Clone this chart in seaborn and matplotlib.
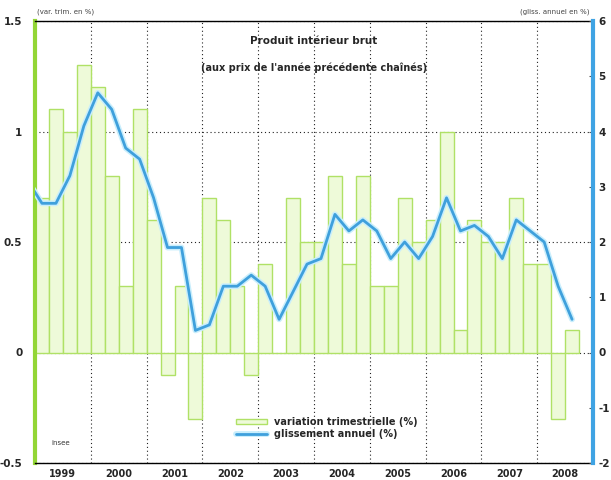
import numpy as np
import pandas as pd
import matplotlib
matplotlib.use("Agg")
import matplotlib.pyplot as plt
import matplotlib.ticker as ticker
import matplotlib.patheffects as pe
from matplotlib.patches import Patch
from matplotlib.lines import Line2D
import seaborn as sns

# données (INSEE, PIB aux prix de l'année précédente chaînés)
years = ["1999", "2000", "2001", "2002", "2003", "2004", "2005", "2006", "2007", "2008"]
quarters = [f"{y}T{q}" for y in years for q in range(1, 5)][:39]

# variation trimestrielle (%), 1999T1 -> 2008T3
var_trim = [0.7, 1.1, 1.0, 1.3,
            1.2, 0.8, 0.3, 1.1,
            0.6, -0.1, 0.3, -0.3,
            0.7, 0.6, 0.3, -0.1,
            0.4, 0.0, 0.7, 0.5,
            0.5, 0.8, 0.4, 0.8,
            0.3, 0.3, 0.7, 0.5,
            0.6, 1.0, 0.1, 0.6,
            0.5, 0.5, 0.7, 0.4,
            0.4, -0.3, 0.1]

# glissement annuel (%), 1998T4 -> 2008T3 (le premier point sort du cadre)
gliss_quarters = ["1998T4"] + quarters
gliss = [3.1,
         2.7, 2.7, 3.2, 4.1,
         4.7, 4.4, 3.7, 3.5,
         2.8, 1.9, 1.9, 0.4,
         0.5, 1.2, 1.2, 1.4,
         1.2, 0.6, 1.1, 1.6,
         1.7, 2.5, 2.2, 2.4,
         2.2, 1.7, 2.0, 1.7,
         2.1, 2.8, 2.2, 2.3,
         2.1, 1.7, 2.4, 2.2,
         2.0, 1.2, 0.6]

bars_df = pd.DataFrame({"trimestre": quarters, "var": var_trim})
line_df = pd.DataFrame({"pos": np.arange(len(gliss)) - 1, "gliss": gliss})

sns.set_style("white")
plt.rcParams["font.family"] = ["DejaVu Sans"]

GREEN_FILL = "#eefad9"
GREEN_EDGE = "#b0e166"
GREEN_AXIS = "#93d636"
BLUE = "#3fa0dc"
BLUE_AXIS = "#3fa3e3"
HALO = [pe.Stroke(linewidth=4.2, foreground="#c9eefc"), pe.Normal()]

fig = plt.figure(figsize=(6.11, 4.8), dpi=100)
ax = fig.add_axes([35 / 611, 17 / 480, 558 / 611, 442 / 480])

sns.barplot(data=bars_df, x="trimestre", y="var", order=quarters, width=1.0,
            color=GREEN_FILL, edgecolor=GREEN_EDGE, linewidth=1.0,
            saturation=1, ax=ax, zorder=2)

ax.set_xlim(-0.5, 39.5)
ax.set_ylim(-0.5, 1.5)
ax.set_xlabel("")
ax.set_ylabel("")

# axe x : séparateurs d'années et libellés
ax.set_xticks(np.arange(3.5, 36, 4))
ax.set_xticklabels([])
ax.set_xticks(np.arange(1.5, 40, 4), minor=True)
ax.set_xticklabels(years, minor=True, fontsize=7, fontweight="bold")
ax.tick_params(axis="x", which="major", length=4, color="black", direction="out")
ax.tick_params(axis="x", which="minor", length=0, pad=4)

ax.set_yticks([-0.5, 0, 0.5, 1, 1.5])
ax.yaxis.set_major_formatter(ticker.FuncFormatter(lambda v, p: f"{v:g}"))
ax.tick_params(axis="y", length=0, pad=9, labelsize=7.5)
for lab in ax.get_yticklabels():
    lab.set_fontweight("bold")

ax.set_axisbelow(True)
ax.grid(False)
ax.xaxis.grid(True, which="major", linestyle=(0, (1, 2.5)), color="#222222", linewidth=0.8)
ax.yaxis.grid(True, linestyle=(0, (1, 2.5)), color="#222222", linewidth=0.8)

for s in ["top", "bottom"]:
    ax.spines[s].set_color("black")
    ax.spines[s].set_linewidth(1.0)
ax.spines["left"].set_color(GREEN_AXIS)
ax.spines["left"].set_linewidth(3)
ax.spines["right"].set_visible(False)

# axe secondaire : glissement annuel
ax2 = ax.twinx()
sns.lineplot(data=line_df, x="pos", y="gliss", color=BLUE, linewidth=2.0, ax=ax2,
             path_effects=HALO)
ax2.set_xlim(-0.5, 39.5)
ax2.set_ylim(-2, 6)
ax2.set_xlabel("")
ax2.set_ylabel("")
ax2.set_yticks(np.arange(-2, 7, 1))
ax2.yaxis.set_major_formatter(ticker.FuncFormatter(lambda v, p: f"{v:g}"))
ax2.tick_params(axis="y", direction="in", length=3, color="#555555", pad=4, labelsize=7.5)
for lab in ax2.get_yticklabels():
    lab.set_fontweight("bold")
ax2.grid(False)
for s in ["top", "bottom", "left"]:
    ax2.spines[s].set_visible(False)
ax2.spines["right"].set_color(BLUE_AXIS)
ax2.spines["right"].set_linewidth(3)

# textes
fig.text(37 / 611, 1 - 12 / 480, "(var. trim. en %)", fontsize=5, color="#444444",
         va="center", ha="left")
fig.text(590 / 611, 1 - 12 / 480, "(gliss. annuel en %)", fontsize=5, color="#444444",
         va="center", ha="right")
ax.text(0.5, 0.955, "Produit intérieur brut", transform=ax.transAxes, ha="center",
        va="center", fontsize=7.5, fontweight="bold")
ax.text(0.5, 0.895, "(aux prix de l'année précédente chaînés)", transform=ax.transAxes,
        ha="center", va="center", fontsize=7, fontweight="bold")
ax.text(0.03, 0.045, "insee", transform=ax.transAxes, ha="left", va="center",
        fontsize=5, color="#333333")

handles = [Patch(facecolor=GREEN_FILL, edgecolor=GREEN_EDGE, linewidth=1.0),
           Line2D([0], [0], color=BLUE, linewidth=2.0, path_effects=HALO)]
leg = ax2.legend(handles, ["variation trimestrielle (%)", "glissement annuel (%)"],
                 loc="lower left", bbox_to_anchor=(0.353, 0.045), frameon=False,
                 handlelength=3.2, handleheight=0.5, handletextpad=0.7,
                 labelspacing=0.25, borderaxespad=0,
                 prop={"size": 7, "weight": "bold"})

fig.savefig("out.png", dpi=100)
